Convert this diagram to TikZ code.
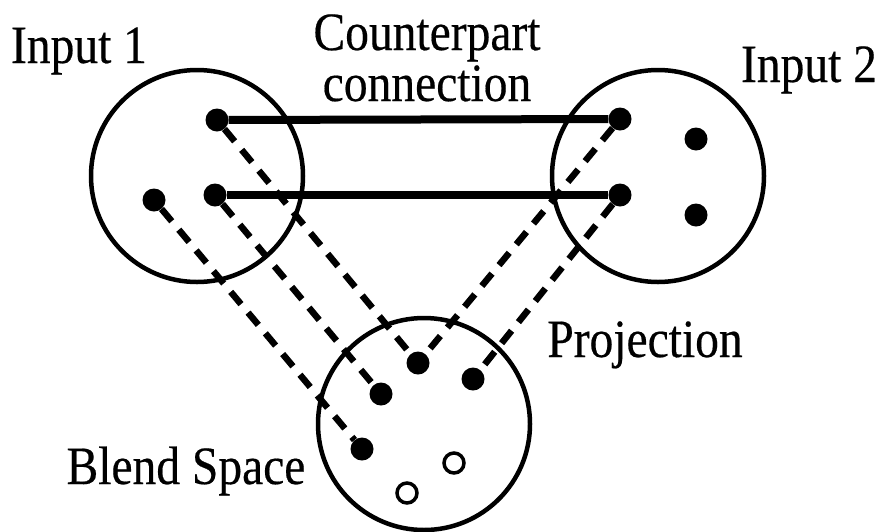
\documentclass[tikz,border=0pt]{standalone}
\usepackage{fontspec}
\setmainfont[FakeStretch=0.88,FakeBold=0.35]{Liberation Serif}
\usetikzlibrary{positioning}

\begin{document}
\begin{tikzpicture}[
  x=1pt, y=-1pt,
  space/.style={circle, draw=black, line width=4.5pt, minimum size=212pt, inner sep=0pt},
  elem/.style={circle, fill=black, minimum size=23pt, inner sep=0pt},
  newelem/.style={circle, draw=black, line width=3.5pt, fill=white, minimum size=20pt, inner sep=0pt},
  link/.style={line width=8pt},
  proj/.style={line width=6.5pt, dash pattern=on 16pt off 11pt},
  lbl/.style={font=\fontsize{54}{58}\selectfont, inner sep=0pt, anchor=base}
]
\useasboundingbox (0,0) rectangle (883,531);

% the three spaces
\node[space] (in1) at (197,176) {};
\node[space] (in2) at (658,176) {};
\node[space] (blend) at (424,424) {};

% elements of input 1
\node[elem] (a1) at (217,120) {};
\node[elem] (a2) at (215,195) {};
\node[elem] (a3) at (154,200) {};

% elements of input 2
\node[elem] (b1) at (620,119) {};
\node[elem] (b2) at (620,195) {};
\node[elem] (b3) at (696,139) {};
\node[elem] (b4) at (696,215) {};

% elements of the blend
\node[elem] (c1) at (418,363) {};
\node[elem] (c2) at (381,394) {};
\node[elem] (c3) at (473,379) {};
\node[elem] (c4) at (362,449) {};
\node[newelem] (n1) at (454,463) {};
\node[newelem] (n2) at (407,493) {};

% counterpart connections
\draw[link] (a1) -- (b1);
\draw[link] (a2) -- (b2);

% projections
\draw[proj] (a1) -- (c1);
\draw[proj] (a2) -- (c2);
\draw[proj] (a3) -- (c4);
\draw[proj] (b1) -- (c1);
\draw[proj] (b2) -- (c3);

% labels
\node[lbl] (t1) at (79,63) {Input 1};
\node[lbl] (t2) at (427,50) {Counterpart};
\node[lbl, below=51pt of t2.base, anchor=base] (t3) {connection};
\node[lbl] (t4) at (809,82) {Input 2};
\node[lbl] (t5) at (645,357) {Projection};
\node[lbl] (t6) at (186,484) {Blend Space};
\end{tikzpicture}
\end{document}
